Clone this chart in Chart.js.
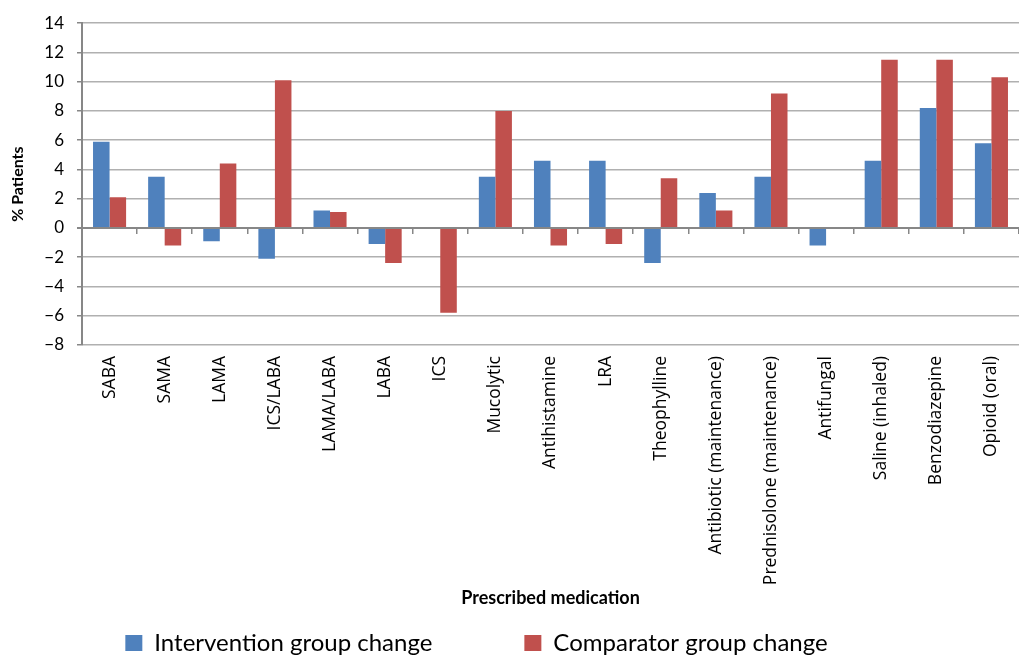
<!DOCTYPE html>
<html>
<head>
<meta charset="utf-8">
<script src="https://cdn.jsdelivr.net/npm/chart.js@4"></script>
<style>
  html, body { margin: 0; padding: 0; background: #ffffff; }
  #wrap { width: 1019px; height: 655px; position: relative; }
</style>
</head>
<body>
<div id="wrap"><canvas id="c"></canvas></div>
<script>
const categories = ["SABA", "SAMA", "LAMA", "ICS/LABA", "LAMA/LABA", "LABA", "ICS", "Mucolytic",
  "Antihistamine", "LRA", "Theophylline", "Antibiotic (maintenance)", "Prednisolone (maintenance)",
  "Antifungal", "Saline (inhaled)", "Benzodiazepine", "Opioid (oral)"];
const interventionChange = [5.9, 3.5, -0.9, -2.1, 1.2, -1.1, 0, 3.5, 4.6, 4.6, -2.4, 2.4, 3.5, -1.2, 4.6, 8.2, 5.8];
const comparatorChange = [2.1, -1.2, 4.4, 10.1, 1.1, -2.4, -5.8, 8.0, -1.2, -1.1, 3.4, 1.2, 9.2, 0, 11.5, 11.5, 10.3];
const seriesNames = ["Intervention group change", "Comparator group change"];
const yMin = -8, yMax = 14, yStep = 2;
const xTitle = "Prescribed medication";
const yTitle = "% Patients";

const BLUE = "#4f81bd", RED = "#c0504d";
const AXIS = "#878787", GRID = "#b0b0b0";

const legendPad = ["\u2003\u2003\u2003\u2003\u2002", "\u2003\u2003\u2003\u2002"];

new Chart(document.getElementById("c"), {
  type: "bar",
  data: {
    labels: categories,
    datasets: [
      { label: seriesNames[0], data: interventionChange, backgroundColor: BLUE, borderWidth: 0 },
      { label: seriesNames[1], data: comparatorChange, backgroundColor: RED, borderWidth: 0 }
    ]
  },
  options: {
    responsive: true,
    maintainAspectRatio: false,
    animation: false,
    devicePixelRatio: 1,
    datasets: { bar: { categoryPercentage: 0.6, barPercentage: 1.0 } },
    layout: { padding: { top: 21, right: 0, bottom: -10, left: 0 } },
    plugins: {
      tooltip: { enabled: false },
      legend: {
        position: "bottom",
        labels: {
          boxWidth: 17, boxHeight: 16, padding: 8, color: "#000",
          font: { family: "Lato", size: 24 },
          generateLabels: (chart) => {
            const items = Chart.defaults.plugins.legend.labels.generateLabels(chart);
            items.forEach((it, i) => { it.text = it.text + legendPad[i]; it.lineWidth = 0; });
            return items;
          }
        }
      }
    },
    scales: {
      x: {
        type: "category",
        position: "bottom",
        grid: { display: false },
        border: { display: false },
        ticks: { minRotation: 90, maxRotation: 90, autoSkip: false, padding: 3, color: "#000",
                 font: { family: "Open Sans", size: 17.5 } },
        title: { display: true, text: xTitle, color: "#000",
                 font: { family: "Lato", size: 18, weight: "bold" }, padding: { top: 0, bottom: 14 } },
        afterFit: (s) => { s.height = 278; }
      },
      x2: {
        type: "category",
        labels: categories,
        position: { y: 0 },
        offset: true,
        grid: { offset: true, drawOnChartArea: false, drawTicks: true, tickLength: 5, color: AXIS, lineWidth: 1.5 },
        border: { display: true, color: AXIS, width: 2 },
        ticks: { display: false }
      },
      y: {
        min: yMin, max: yMax,
        ticks: { stepSize: yStep, padding: 13, color: "#000",
                 font: { family: "Lato", size: 17 },
                 callback: (v) => (v < 0 ? "\u2212" + Math.abs(v) : String(v)) },
        grid: {
          color: (ctx) => (ctx.tick && ctx.tick.value === 0 ? AXIS : GRID),
          lineWidth: (ctx) => (ctx.tick && ctx.tick.value === 0 ? 2 : 1.5),
          tickColor: AXIS, tickLength: 5, drawTicks: true
        },
        border: { display: true, color: AXIS, width: 2 },
        title: { display: true, text: yTitle, color: "#000",
                 font: { family: "Lato", size: 16, weight: "bold" }, padding: { top: 8, bottom: 0 } },
        afterFit: (s) => { s.width = 82; }
      }
    }
  }
});
</script>
</body>
</html>
